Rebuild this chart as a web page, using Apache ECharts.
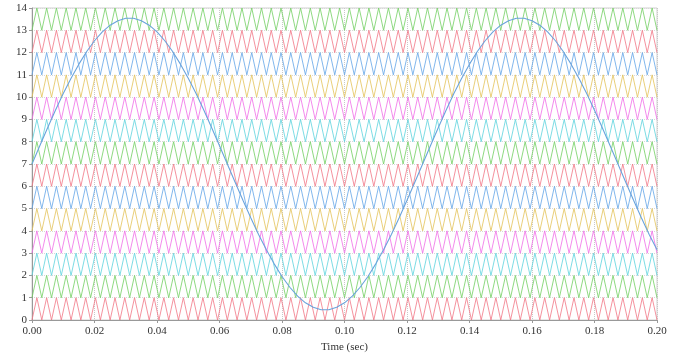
<!DOCTYPE html>
<html>
<head>
<meta charset="utf-8">
<script src="https://cdn.jsdelivr.net/npm/echarts@6/dist/echarts.min.js"></script>
<style>html,body{margin:0;padding:0;background:#fff;}#c{width:684px;height:359px;}</style>
</head>
<body>
<div id="c"></div>
<script>
// Carrier vertex times (s): triangle carriers alternate low/high at these instants
const carrierTimes = [
0, 0.0015625, 0.003125, 0.0046875, 0.00625, 0.0078125, 0.009375, 0.0109375,
0.0125, 0.0140625, 0.015625, 0.0171875, 0.01875, 0.0203125, 0.021875, 0.0234375,
0.025, 0.0265625, 0.028125, 0.0296875, 0.03125, 0.0328125, 0.034375, 0.0359375,
0.0375, 0.0390625, 0.040625, 0.0421875, 0.04375, 0.0453125, 0.046875, 0.0484375,
0.05, 0.0515625, 0.053125, 0.0546875, 0.05625, 0.0578125, 0.059375, 0.0609375,
0.0625, 0.0640625, 0.065625, 0.0671875, 0.06875, 0.0703125, 0.071875, 0.0734375,
0.075, 0.0765625, 0.078125, 0.0796875, 0.08125, 0.0828125, 0.084375, 0.0859375,
0.0875, 0.0890625, 0.090625, 0.0921875, 0.09375, 0.0953125, 0.096875, 0.0984375,
0.1, 0.1015625, 0.103125, 0.1046875, 0.10625, 0.1078125, 0.109375, 0.1109375,
0.1125, 0.1140625, 0.115625, 0.1171875, 0.11875, 0.1203125, 0.121875, 0.1234375,
0.125, 0.1265625, 0.128125, 0.1296875, 0.13125, 0.1328125, 0.134375, 0.1359375,
0.1375, 0.1390625, 0.140625, 0.1421875, 0.14375, 0.1453125, 0.146875, 0.1484375,
0.15, 0.1515625, 0.153125, 0.1546875, 0.15625, 0.1578125, 0.159375, 0.1609375,
0.1625, 0.1640625, 0.165625, 0.1671875, 0.16875, 0.1703125, 0.171875, 0.1734375,
0.175, 0.1765625, 0.178125, 0.1796875, 0.18125, 0.1828125, 0.184375, 0.1859375,
0.1875, 0.1890625, 0.190625, 0.1921875, 0.19375, 0.1953125, 0.196875, 0.1984375,
0.2
];
// Lower level of each carrier band (bottom to top)
const carrierLevels = [0,1,2,3,4,5,6,7,8,9,10,11,12,13];

// Reference (modulating) wave samples
const refTimes = [
0,0.0025,0.005,0.0075,0.01,0.0125,0.015,0.0175,0.02,0.0225,
0.025,0.0275,0.03,0.0325,0.035,0.0375,0.04,0.0425,0.045,0.0475,
0.05,0.0525,0.055,0.0575,0.06,0.0625,0.065,0.0675,0.07,0.0725,
0.075,0.0775,0.08,0.0825,0.085,0.0875,0.09,0.0925,0.095,0.0975,
0.1,0.1025,0.105,0.1075,0.11,0.1125,0.115,0.1175,0.12,0.1225,
0.125,0.1275,0.13,0.1325,0.135,0.1375,0.14,0.1425,0.145,0.1475,
0.15,0.1525,0.155,0.1575,0.16,0.1625,0.165,0.1675,0.17,0.1725,
0.175,0.1775,0.18,0.1825,0.185,0.1875,0.19,0.1925,0.195,0.1975,0.2
];
const refValues = [
7.00,7.82,8.63,9.41,10.16,10.85,11.48,12.05,12.53,12.93,
13.23,13.43,13.54,13.54,13.43,13.23,12.93,12.53,12.05,11.48,
10.85,10.16,9.41,8.63,7.82,7.00,6.18,5.37,4.59,3.84,
3.15,2.52,1.95,1.47,1.07,0.77,0.57,0.46,0.46,0.57,
0.77,1.07,1.47,1.95,2.52,3.15,3.84,4.59,5.37,6.18,
7.00,7.82,8.63,9.41,10.16,10.85,11.48,12.05,12.53,12.93,
13.23,13.43,13.54,13.54,13.43,13.23,12.93,12.53,12.05,11.48,
10.85,10.16,9.41,8.63,7.82,7.00,6.18,5.37,4.59,3.84,3.15
];
const xTicks = ['0.00','0.02','0.04','0.06','0.08','0.10','0.12','0.14','0.16','0.18','0.20'];
const yTicks = [0,1,2,3,4,5,6,7,8,9,10,11,12,13,14];

const palette = ['#f27887','#74d064','#5fd4de','#f070e8','#e4c45c','#64a6e8'];

const series = carrierLevels.map((lv, i) => ({
  type: 'line',
  name: 'carrier' + (i + 1),
  data: carrierTimes.map((t, k) => [t, lv + (k % 2)]),
  showSymbol: false,
  lineStyle: { width: 0.9, color: palette[i % 6], opacity: 0.9 },
  itemStyle: { color: palette[i % 6] },
  silent: true,
  z: 2
}));
series.push({
  type: 'line',
  name: 'reference',
  data: refTimes.map((t, k) => [t, refValues[k]]),
  showSymbol: false,
  lineStyle: { width: 1.1, color: '#6aa3dc' },
  z: 3
});

const chart = echarts.init(document.getElementById('c'), null, { renderer: 'canvas' });
chart.setOption({
  animation: false,
  backgroundColor: '#ffffff',
  textStyle: { fontFamily: 'Liberation Serif' },
  grid: { left: 32, right: 27, top: 8, bottom: 39, show: true, borderColor: '#d0d0d0', borderWidth: 1 },
  xAxis: {
    type: 'value', min: 0, max: 0.2, interval: 0.02,
    name: 'Time (sec)', nameLocation: 'middle', nameGap: 22,
    nameTextStyle: { fontFamily: 'Liberation Serif', fontSize: 11, color: '#333' },
    axisLine: { show: true, lineStyle: { color: '#999', width: 1 } },
    axisTick: { show: true, length: 3, lineStyle: { color: '#999' } },
    axisLabel: { fontFamily: 'Liberation Serif', fontSize: 11, color: '#333', margin: 6,
      formatter: v => xTicks[Math.round(v / 0.02)] },
    splitLine: { show: true, lineStyle: { color: '#c8c8c8', type: 'dotted', width: 1 } }
  },
  yAxis: {
    type: 'value', min: 0, max: 14, interval: 1,
    axisLine: { show: true, lineStyle: { color: '#999', width: 1 } },
    axisTick: { show: true, length: 3, lineStyle: { color: '#999' } },
    axisLabel: { fontFamily: 'Liberation Serif', fontSize: 11, color: '#333', margin: 5,
      formatter: v => String(yTicks[Math.round(v)]) },
    splitLine: { show: true, lineStyle: { color: '#d8d8d8', type: 'dotted', width: 1 } }
  },
  series: series
});
</script>
</body>
</html>
